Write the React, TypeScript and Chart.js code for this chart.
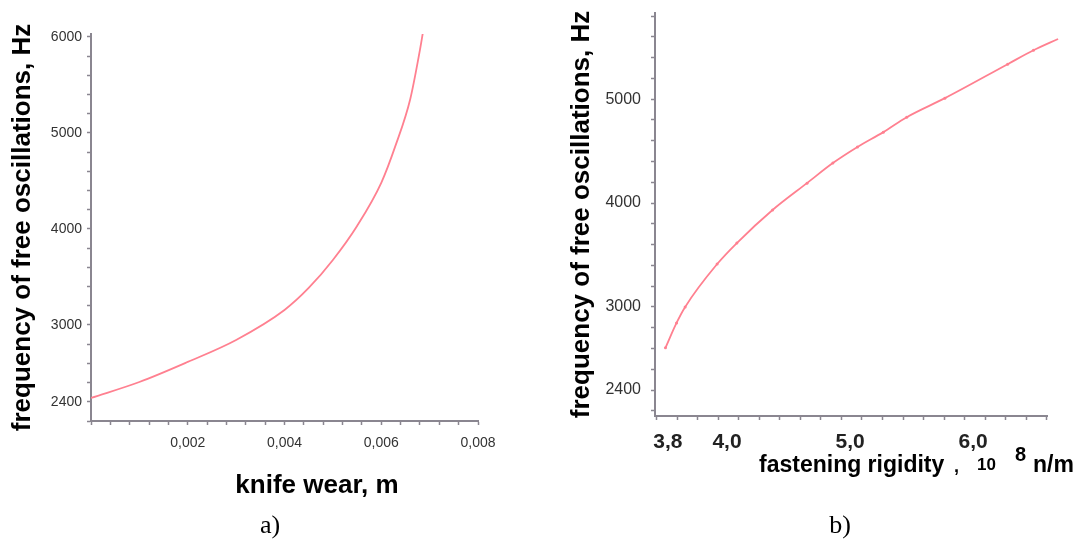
import React, { useEffect, useRef } from 'react';
import { Chart, registerables } from 'chart.js';

Chart.register(...registerables);

// ---------- data (a) : knife wear ----------
const wearX = [0, 0.001, 0.002, 0.003, 0.004, 0.0045, 0.005, 0.0055, 0.006, 0.0063, 0.0066, 0.0068, 0.00686];
const freqA = [2240, 2406, 2615, 2844, 3156, 3385, 3677, 4031, 4480, 4875, 5354, 5865, 6042];

const xTickValuesA = [0.002, 0.004, 0.006, 0.008];
const xTickLabelsA = ['0,002', '0,004', '0,006', '0,008'];
const yTickValuesA = [2200, 3000, 4000, 5000, 6000];
const yTickLabelsA = ['2400', '3000', '4000', '5000', '6000'];

// ---------- data (b) : fastening rigidity ----------
const rigidityX = [3.50, 3.59, 3.66, 3.92, 4.08, 4.37, 4.65, 4.86, 5.06, 5.27, 5.46, 5.77, 6.28, 6.49, 6.69];
const freqB = [2606, 2846, 3000, 3413, 3615, 3933, 4192, 4385, 4540, 4683, 4827, 5010, 5337, 5471, 5580];

const xTickValuesB = [3.52, 4, 5, 6];
const xTickLabelsB = ['3,8', '4,0', '5,0', '6,0'];
const yTickValuesB = [2200, 3000, 4000, 5000];
const yTickLabelsB = ['2400', '3000', '4000', '5000'];

const LINE = '#ff8090';
const AXIS = '#8a8690';
const SANS = '"Liberation Sans", Arial, sans-serif';
const SERIF = '"Liberation Serif", "Times New Roman", serif';

type TickObj = { value: number; label: string; hide?: boolean };

function buildTicks(start: number, end: number, step: number, majors: number[], labels: string[]): TickObj[] {
  const out: TickObj[] = [];
  const n = Math.floor((end - start) / step + 1e-6);
  for (let k = 0; k <= n; k++) {
    out.push({ value: start + k * step, label: '' });
  }
  majors.forEach((m, i) => {
    const hit = out.find((t) => Math.abs(t.value - m) < step * 1e-3);
    if (hit) hit.label = labels[i];
    else out.push({ value: m, label: labels[i], hide: true });
  });
  out.sort((a, b) => a.value - b.value);
  return out;
}

const textPlugin = {
  id: 'extraText',
  afterDraw(chart: any, _args: any, opts: any) {
    const ctx = chart.ctx;
    (opts.items || []).forEach((it: any) => {
      ctx.save();
      ctx.font = it.font;
      ctx.fillStyle = it.color || '#000';
      ctx.textAlign = it.align || 'left';
      ctx.textBaseline = 'alphabetic';
      ctx.fillText(it.text, it.x, it.y);
      ctx.restore();
    });
  },
};

function axisCfg(opts: {
  min: number; max: number; ticks: TickObj[]; size: number; horizontal: boolean;
  font: any; color: string; padding: number; tickLength?: number; title?: any;
}) {
  const list = opts.ticks;
  return {
    type: 'linear',
    min: opts.min,
    max: opts.max,
    afterFit: (s: any) => {
      if (opts.horizontal) {
        s.height = opts.size;
      } else {
        s.width = opts.size;
        s.paddingTop = 0;
        s.paddingBottom = 0;
      }
    },
    afterBuildTicks: (s: any) => {
      s.ticks = list.map((t) => ({ value: t.value, hide: t.hide }));
    },
    grid: {
      drawOnChartArea: false,
      drawTicks: true,
      tickLength: opts.tickLength ?? 4,
      tickWidth: 1.5,
      tickColor: (c: any) => (c.tick && c.tick.hide ? 'rgba(0,0,0,0)' : AXIS),
    },
    border: { display: true, color: AXIS, width: 2 },
    ticks: {
      autoSkip: false,
      maxRotation: 0,
      minRotation: 0,
      padding: opts.padding,
      font: opts.font,
      color: opts.color,
      callback: (_v: any, i: number) => list[i].label,
    },
    title: opts.title || { display: false },
  };
}

function ChartA() {
  const ref = useRef<HTMLCanvasElement | null>(null);
  useEffect(() => {
    if (!ref.current) return;
    const xt = buildTicks(0, 0.008, 0.0004, xTickValuesA, xTickLabelsA);
    const yt = buildTicks(2000, 6000, 200, yTickValuesA, yTickLabelsA);
    const chart = new Chart(ref.current, {
      type: 'line',
      data: {
        datasets: [{
          data: wearX.map((x, i) => ({ x, y: freqA[i] })),
          borderColor: LINE,
          borderWidth: 1.8,
          pointRadius: 0,
          cubicInterpolationMode: 'monotone',
          fill: false,
        }],
      },
      options: {
        animation: false,
        responsive: false,
        layout: { padding: { left: 0, top: 34, right: 63, bottom: 0 } },
        plugins: {
          legend: { display: false },
          tooltip: { enabled: false },
          extraText: {
            items: [
              { text: 'knife wear, m', x: 317, y: 493, align: 'center', font: `bold 26px ${SANS}` },
              { text: 'a)', x: 270, y: 533, align: 'center', font: `normal 26px ${SERIF}` },
            ],
          },
        },
        scales: {
          x: axisCfg({ min: 0, max: 0.008, ticks: xt, size: 118, horizontal: true, font: { family: SANS, size: 14 }, color: '#333', padding: 10 }),
          y: axisCfg({
            min: 2000, max: 6030, ticks: yt, size: 91, horizontal: false, font: { family: SANS, size: 14 }, color: '#333', padding: 5,
            title: { display: true, text: 'frequency of free oscillations, Hz', color: '#000', font: { family: SANS, size: 26, weight: 'bold' }, padding: { top: 7, bottom: 0 } },
          }),
        },
      } as any,
      plugins: [textPlugin as any],
    } as any);
    return () => chart.destroy();
  }, []);
  return <canvas ref={ref} width={541} height={539} style={{ width: 541, height: 539, display: 'block' }} />;
}

function ChartB() {
  const ref = useRef<HTMLCanvasElement | null>(null);
  useEffect(() => {
    if (!ref.current) return;
    const xt = buildTicks(3.43, 6.6, 1 / 6, xTickValuesB, xTickLabelsB);
    const yt = buildTicks(2000, 5800, 200, yTickValuesB, yTickLabelsB);
    const chart = new Chart(ref.current, {
      type: 'line',
      data: {
        datasets: [{
          data: rigidityX.map((x, i) => ({ x, y: freqB[i] })),
          borderColor: LINE,
          backgroundColor: LINE,
          borderWidth: 1.8,
          pointRadius: 1.5,
          pointBorderWidth: 0,
          cubicInterpolationMode: 'monotone',
          fill: false,
          clip: false,
        }],
      },
      options: {
        animation: false,
        responsive: false,
        layout: { padding: { left: 0, top: 13, right: 35, bottom: 0 } },
        plugins: {
          legend: { display: false },
          tooltip: { enabled: false },
          extraText: {
            items: [
              { text: 'fastening rigidity', x: 218, y: 472, font: `bold 23px ${SANS}` },
              { text: ',', x: 413, y: 472, font: `bold 18px ${SANS}` },
              { text: '10', x: 436, y: 470, font: `bold 17px ${SANS}` },
              { text: '8', x: 474, y: 461, font: `bold 20px ${SANS}` },
              { text: 'n/m', x: 492, y: 472, font: `bold 23px ${SANS}` },
              { text: 'b)', x: 299, y: 533, align: 'center', font: `normal 26px ${SERIF}` },
            ],
          },
        },
        scales: {
          x: axisCfg({ min: 3.415, max: 6.6, ticks: xt, size: 123, horizontal: true, font: { family: SANS, size: 21, weight: 'bold' }, color: '#222', padding: 10 }),
          y: axisCfg({
            min: 1950, max: 5830, ticks: yt, size: 114, horizontal: false, font: { family: SANS, size: 16 }, color: '#333', padding: 10,
            title: { display: true, text: 'frequency of free oscillations, Hz', color: '#000', font: { family: SANS, size: 26, weight: 'bold' }, padding: { top: 25, bottom: 0 } },
          }),
        },
      } as any,
      plugins: [textPlugin as any],
    } as any);
    return () => chart.destroy();
  }, []);
  return <canvas ref={ref} width={541} height={539} style={{ width: 541, height: 539, display: 'block' }} />;
}

export default function App() {
  return (
    <div style={{ position: 'absolute', left: 0, top: 0, width: 1082, height: 539, background: '#fff', overflow: 'hidden' }}>
      <div style={{ position: 'absolute', left: 0, top: 0 }}>
        <ChartA />
      </div>
      <div style={{ position: 'absolute', left: 541, top: 0 }}>
        <ChartB />
      </div>
    </div>
  );
}
